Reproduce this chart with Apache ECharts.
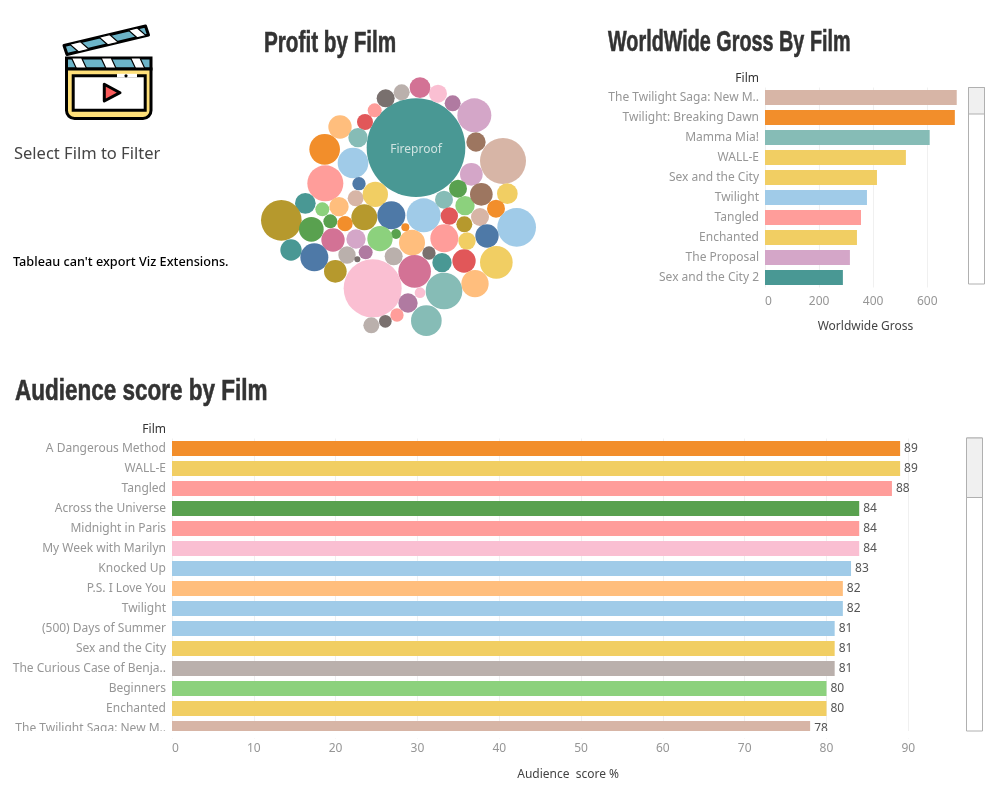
<!DOCTYPE html>
<html>
<head>
<meta charset="utf-8">
<script src="https://cdn.jsdelivr.net/npm/echarts@6/dist/echarts.min.js"></script>
<style>
html, body { margin: 0; padding: 0; background: #fff; }
#chart { width: 999px; height: 799px; }
</style>
</head>
<body>
<div id="chart"></div>
<script>
// tableau-ish palette
const teal = '#499894', mint = '#86bcb6', orange = '#f28e2b', ltOrange = '#ffbe7d'
const blue = '#4e79a7', ltBlue = '#a0cbe8', green = '#59a14f', ltGreen = '#8cd17d'
const olive = '#b6992d', yellow = '#f1ce63', red = '#e15759', salmon = '#ff9d9a'
const rose = '#d37295', ltPink = '#fabfd2', purple = '#b07aa1', lilac = '#d4a6c8'
const brown = '#9d7660', tan = '#d7b5a6', grey = '#79706e', taupe = '#bab0ac'

// worldwide gross
const grossFilms = ['The Twilight Saga: New M..', 'Twilight: Breaking Dawn', 'Mamma Mia!', 'WALL-E', 'Sex and the City', 'Twilight', 'Tangled', 'Enchanted', 'The Proposal', 'Sex and the City 2']
const grossValues = [709, 702, 609, 521, 414, 377, 355, 340, 314, 288]
const grossColors = [tan, orange, mint, yellow, yellow, ltBlue, salmon, yellow, lilac, teal]
const grossTicks = [0, 200, 400, 600]

// audience score
const scoreFilms = ['A Dangerous Method', 'WALL-E', 'Tangled', 'Across the Universe', 'Midnight in Paris', 'My Week with Marilyn', 'Knocked Up', 'P.S. I Love You', 'Twilight', '(500) Days of Summer', 'Sex and the City', 'The Curious Case of Benja..', 'Beginners', 'Enchanted', 'The Twilight Saga: New M..']
const scoreValues = [89, 89, 88, 84, 84, 84, 83, 82, 82, 81, 81, 81, 80, 80, 78]
const scoreColors = [orange, yellow, salmon, green, salmon, ltPink, ltBlue, ltOrange, ltBlue, ltBlue, yellow, taupe, ltGreen, yellow, tan]

// packed bubbles: layout position + profit (area)
const bubbleX = [498, 759, 673, 678, 664, 608, 564, 510, 455, 407, 374, 345, 270, 324, 224, 309, 226, 327, 317, 376, 166, 94, 217, 267, 241, 184, 285, 343, 424, 521, 582, 624, 645, 694, 772, 738, 690, 598, 643, 800, 711, 651, 583, 486, 466, 438, 390, 318, 249, 123, 193, 256, 291, 347, 322, 431, 537, 576, 642, 739, 675, 582, 494, 368, 510, 474, 441, 406, 364, 529]
const bubbleY = [233, 273, 136, 216, 313, 100, 71, 53, 67, 85, 121, 156, 171, 203, 238, 279, 340, 341, 385, 373, 400, 451, 418, 410, 454, 478, 461, 442, 436, 436, 389, 356, 407, 373, 371, 416, 441, 438, 463, 472, 498, 513, 505, 518, 472, 492, 506, 507, 510, 540, 562, 604, 555, 547, 568, 559, 549, 578, 573, 577, 641, 663, 604, 655, 668, 699, 735, 754, 766, 752]
const bubbleProfit = [219.04, 47.61, 26.01, 8.41, 11.56, 5.76, 7.29, 9.61, 5.76, 7.29, 4.41, 5.76, 12.25, 8.41, 21.16, 21.16, 29.16, 4, 5.76, 14.44, 9.61, 37.21, 4.41, 8.41, 4.41, 13.69, 5.29, 15.21, 17.64, 26.01, 7.29, 7.29, 8.41, 11.56, 9.61, 7.29, 7.29, 6.76, 5.76, 33.64, 12.25, 6.76, 17.64, 15.21, 1.44, 2.25, 14.44, 8.41, 12.25, 10.24, 17.64, 11.56, 6.76, 4.41, 0.81, 7.29, 4, 8.41, 12.25, 24.01, 16.81, 30.25, 24.01, 75.69, 2.56, 8.41, 4, 3.61, 5.76, 21.16]
const bubbleColors = [teal, tan, lilac, brown, lilac, purple, ltPink, rose, taupe, grey, salmon, red, ltOrange, mint, orange, ltBlue, salmon, blue, tan, yellow, teal, olive, ltGreen, ltOrange, green, green, orange, olive, blue, ltBlue, mint, green, ltGreen, brown, yellow, orange, tan, red, olive, ltBlue, blue, yellow, salmon, ltOrange, orange, green, ltGreen, lilac, rose, teal, blue, olive, taupe, purple, grey, taupe, grey, teal, red, yellow, ltOrange, mint, rose, ltPink, ltPink, purple, salmon, grey, taupe, mint]
const bubbleLabels = ['Fireproof']

const bodyFont = '"Noto Sans", sans-serif'
const titleFont = '"Liberation Sans", sans-serif'
const gridLine = '#f0f0f0'
const tickColor = '#969696'

function bars (values, colors) {
    return values.map((v, i) => ({value: v, itemStyle: {color: colors[i]}}))
}

// no Oswald here, so the bold sans gets squeezed to the same width
function heading (text, x, y, squeeze) {
    return {
        type: 'text',
        x: x,
        y: y,
        scaleX: squeeze,
        style: {text: text, font: 'bold 30px ' + titleFont, fill: '#333', stroke: '#333', lineWidth: 0.6, textVerticalAlign: 'middle'}
    }
}

function label (text, x, y, font, fill, align) {
    return {type: 'text', x: x, y: y, style: {text: text, font: font, fill: fill, textAlign: align || 'left', textVerticalAlign: 'middle'}}
}

function scrollbar (x, top, bottom, thumb) {
    return [
        {type: 'rect', z: 20, shape: {x: x, y: top, width: 16, height: bottom - top}, style: {fill: '#fff', stroke: '#b0b0b0', lineWidth: 1}},
        {type: 'rect', z: 20, shape: {x: x, y: top, width: 16, height: thumb - top}, style: {fill: '#f0f0f0', stroke: '#b0b0b0', lineWidth: 1}}
    ]
}

function lerp (p, q, t) {
    return [p[0] + (q[0] - p[0]) * t, p[1] + (q[1] - p[1]) * t]
}

// one slanted white stripe across a clapper band with corners a, b (top) and d, c (bottom)
function stripe (a, b, c, d, t0, t1, skew) {
    return {
        type: 'polygon',
        z: 21,
        shape: {points: [lerp(a, b, t0), lerp(a, b, t1), lerp(d, c, t1 + skew), lerp(d, c, t0 + skew)]},
        style: {fill: '#fff', stroke: '#000', lineWidth: 1.2}
    }
}

const stickA = [64, 45.5], stickB = [145.5, 26], stickC = [148.5, 35], stickD = [67, 54.5]
const bandA = [66.5, 58], bandB = [151, 58], bandC = [151, 69], bandD = [66.5, 69]

// clapperboard drawn from plain shapes
const icon = [
    {type: 'polygon', z: 20, shape: {points: [stickA, stickB, stickC, stickD]}, style: {fill: '#6cb4c8', stroke: '#000', lineWidth: 3, lineJoin: 'round'}},
    stripe(stickA, stickB, stickC, stickD, 0.07, 0.2, 0.07),
    stripe(stickA, stickB, stickC, stickD, 0.43, 0.56, 0.07),
    stripe(stickA, stickB, stickC, stickD, 0.79, 0.9, 0.07),
    {type: 'polygon', z: 20, shape: {points: [bandA, bandB, bandC, bandD]}, style: {fill: '#6cb4c8', stroke: '#000', lineWidth: 3}},
    stripe(bandA, bandB, bandC, bandD, 0.06, 0.18, 0.06),
    stripe(bandA, bandB, bandC, bandD, 0.41, 0.53, 0.06),
    stripe(bandA, bandB, bandC, bandD, 0.76, 0.87, 0.06),
    {type: 'rect', z: 22, shape: {x: 66.5, y: 69, width: 84.5, height: 49.5, r: [0, 0, 8, 8]}, style: {fill: '#ffe07a', stroke: '#000', lineWidth: 3}},
    {type: 'rect', z: 23, shape: {x: 73.2, y: 75.8, width: 72, height: 34.4}, style: {fill: '#fff', stroke: '#000', lineWidth: 3}},
    {type: 'rect', z: 24, shape: {x: 117, y: 73.8, width: 20, height: 3.6}, style: {fill: '#fff'}},
    {type: 'circle', z: 25, shape: {cx: 126, cy: 75.8, r: 1.6}, style: {fill: '#000'}},
    {type: 'polygon', z: 25, shape: {points: [[104.3, 84.3], [104.3, 101], [120, 92.7]]}, style: {fill: '#f95a5a', stroke: '#000', lineWidth: 3, lineJoin: 'round'}}
]

const option = {
    animation: false,
    backgroundColor: '#fff',
    textStyle: {fontFamily: bodyFont},
    grid: [
        {left: 765, top: 87.5, width: 192, height: 200},
        {left: 172, top: 438.5, width: 736.3, height: 300},
        {left: 250, top: 70, width: 300, height: 270}
    ],
    xAxis: [
        {
            type: 'value',
            min: 0,
            max: 710,
            name: 'Worldwide Gross',
            nameLocation: 'middle',
            nameGap: 33,
            nameTextStyle: {color: '#444', fontSize: 12, padding: [0, 0, 0, 9]},
            axisLine: {show: false},
            axisTick: {show: false, customValues: grossTicks},
            axisLabel: {color: tickColor, fontSize: 12, margin: 8, alignMinLabel: 'left', customValues: grossTicks},
            splitLine: {lineStyle: {color: gridLine}}
        },
        {
            gridIndex: 1,
            type: 'value',
            min: 0,
            max: 90,
            interval: 10,
            name: 'Audience  score %',
            nameLocation: 'middle',
            nameGap: 30,
            nameTextStyle: {color: '#444', fontSize: 12, padding: [0, 0, 0, 56]},
            axisLine: {show: false},
            axisTick: {show: false},
            axisLabel: {color: tickColor, fontSize: 12, margin: 4, alignMinLabel: 'left'},
            splitLine: {lineStyle: {color: gridLine}}
        },
        {gridIndex: 2, type: 'value', min: 0, max: 900, show: false}
    ],
    yAxis: [
        {
            type: 'category',
            inverse: true,
            data: grossFilms,
            axisLine: {show: false},
            axisTick: {show: false},
            axisLabel: {color: tickColor, fontSize: 12, margin: 6, padding: [5, 0, 0, 0]}
        },
        {
            gridIndex: 1,
            type: 'category',
            inverse: true,
            data: scoreFilms,
            axisLine: {show: false},
            axisTick: {show: false},
            axisLabel: {color: tickColor, fontSize: 12, margin: 6, padding: [5, 0, 0, 0]}
        },
        {gridIndex: 2, type: 'value', inverse: true, min: 0, max: 810, show: false}
    ],
    series: [
        {
            name: 'Worldwide Gross',
            type: 'bar',
            barWidth: 15,
            data: bars(grossValues, grossColors)
        },
        {
            name: 'Audience score',
            type: 'bar',
            xAxisIndex: 1,
            yAxisIndex: 1,
            barWidth: 15,
            label: {show: true, position: 'right', distance: 4, color: '#555', fontSize: 12},
            data: bars(scoreValues, scoreColors)
        },
        {
            name: 'Profit',
            type: 'scatter',
            xAxisIndex: 2,
            yAxisIndex: 2,
            clip: false,
            symbolSize: function (val) {
                return Math.sqrt(val[2]) * 20 / 3
            },
            data: bubbleX.map((x, i) => ({
                value: [x, bubbleY[i], bubbleProfit[i]],
                itemStyle: {color: bubbleColors[i], opacity: 1},
                label: {
                    show: i < bubbleLabels.length,
                    formatter: bubbleLabels[i] || '',
                    color: '#cfe3e1',
                    fontSize: 12,
                    offset: [0, 2]
                }
            }))
        }
    ],
    graphic: {
        elements: [
            heading('Profit by Film', 264, 44, 0.69),
            heading('WorldWide Gross By Film', 608, 43, 0.66),
            heading('Audience score by Film', 15, 392, 0.75),
            label('Select Film to Filter', 14, 154, '16.5px ' + bodyFont, '#444'),
            label('Tableau can\'t export Viz Extensions.', 13, 262, '500 12.7px ' + bodyFont, '#000'),
            label('Film', 759, 79, '12px ' + bodyFont, '#333', 'right'),
            label('Film', 166, 430, '12px ' + bodyFont, '#333', 'right'),
            // hides the part of the last row that is scrolled out of view
            {type: 'rect', z: 10, shape: {x: 0, y: 731, width: 960, height: 7}, style: {fill: '#fff'}}
        ].concat(scrollbar(968.5, 87.5, 284, 114), scrollbar(966.5, 438, 731, 497.5), icon)
    }
}

const chart = echarts.init(document.getElementById('chart'))
chart.setOption(option)
</script>
</body>
</html>
